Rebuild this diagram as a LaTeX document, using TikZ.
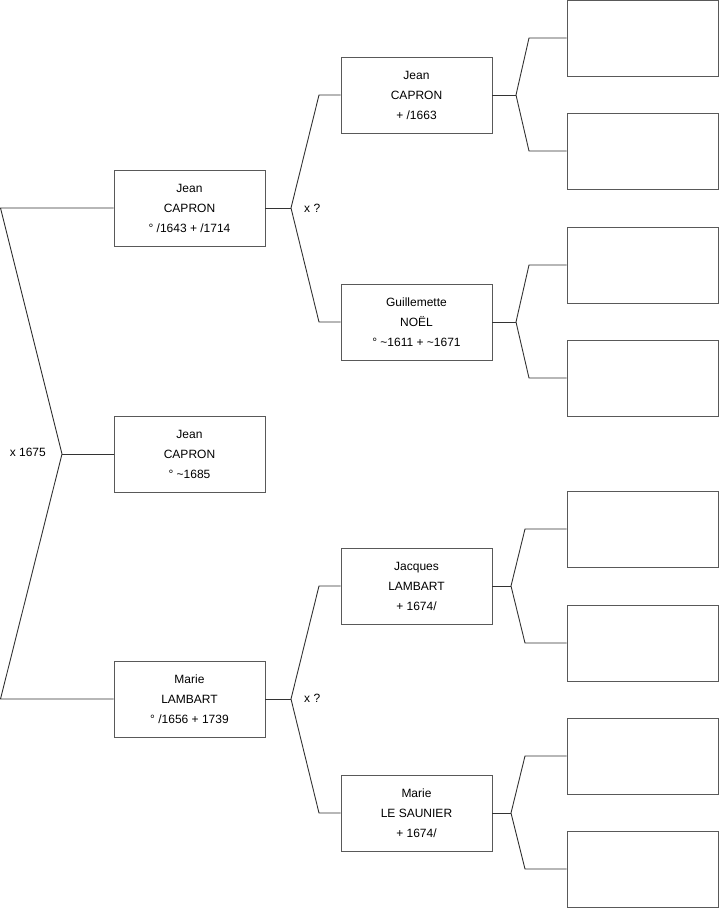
\documentclass[tikz,border=0pt]{standalone}
\usepackage{fontspec}
\setmainfont{Liberation Sans}
\begin{document}
\begin{tikzpicture}[x=1pt,y=-1pt,
  person/.style={draw=black!65, line width=0.9pt, fill=white, minimum width=151pt, minimum height=76pt,
    inner sep=0pt, align=center, font=\fontsize{12}{20}\selectfont},
  link/.style={draw=black!80, line width=0.9pt},
  lbl/.style={font=\fontsize{12}{14}\selectfont, inner sep=0pt}]
\useasboundingbox (0,0) rectangle (719,908);
% boxes
\node[person] (L1) at (189.5,208) {Jean\\CAPRON\\° /1643 + /1714};
\node[person] (L2) at (189.5,454) {Jean\\CAPRON\\° \textasciitilde1685};
\node[person] (L3) at (189.5,699) {Marie\\LAMBART\\° /1656 + 1739};
\node[person] (M1) at (416.5,95) {Jean\\CAPRON\\+ /1663};
\node[person] (M2) at (416.5,322) {Guillemette\\NOËL\\° \textasciitilde1611 + \textasciitilde1671};
\node[person] (M3) at (416.5,586) {Jacques\\LAMBART\\+ 1674/};
\node[person] (M4) at (416.5,813) {Marie\\LE SAUNIER\\+ 1674/};
\node[person] (R1) at (642.5,38) {};
\node[person] (R2) at (642.5,151) {};
\node[person] (R3) at (642.5,265) {};
\node[person] (R4) at (642.5,378) {};
\node[person] (R5) at (642.5,529) {};
\node[person] (R6) at (642.5,643) {};
\node[person] (R7) at (642.5,756) {};
\node[person] (R8) at (642.5,869) {};
% left bracket
\coordinate (lt) at (0.5,208);
\coordinate (lj) at (62,454);
\coordinate (lb) at (0.5,699);
\draw[link] (L1.west) -- (lt) -- (lj) -- (lb) -- (L3.west);
\draw[link] (lj) -- (L2.west);
\node[lbl, anchor=east] (x1) at (46,452) {x 1675};
% middle brackets
\coordinate (mj1) at (291,208);
\coordinate (mt1) at (319,95);
\coordinate (mb1) at (319,322);
\draw[link] (L1.east) -- (mj1);
\draw[link] (M1.west) -- (mt1) -- (mj1) -- (mb1) -- (M2.west);
\node[lbl, anchor=west] (x2) at (304,208) {x ?};
\coordinate (mj2) at (291,699);
\coordinate (mt2) at (319,586);
\coordinate (mb2) at (319,813);
\draw[link] (L3.east) -- (mj2);
\draw[link] (M3.west) -- (mt2) -- (mj2) -- (mb2) -- (M4.west);
\node[lbl, anchor=west] (x3) at (304,698) {x ?};
% right brackets
\coordinate (rj1) at (516,95);
\coordinate (rt1) at (529,38);
\coordinate (rb1) at (529,151);
\draw[link] (M1.east) -- (rj1);
\draw[link] (R1.west) -- (rt1) -- (rj1) -- (rb1) -- (R2.west);
\coordinate (rj2) at (516,322);
\coordinate (rt2) at (529,265);
\coordinate (rb2) at (529,378);
\draw[link] (M2.east) -- (rj2);
\draw[link] (R3.west) -- (rt2) -- (rj2) -- (rb2) -- (R4.west);
\coordinate (rj3) at (511,586);
\coordinate (rt3) at (525,529);
\coordinate (rb3) at (525,643);
\draw[link] (M3.east) -- (rj3);
\draw[link] (R5.west) -- (rt3) -- (rj3) -- (rb3) -- (R6.west);
\coordinate (rj4) at (511,813);
\coordinate (rt4) at (525,756);
\coordinate (rb4) at (525,869);
\draw[link] (M4.east) -- (rj4);
\draw[link] (R7.west) -- (rt4) -- (rj4) -- (rb4) -- (R8.west);
\end{tikzpicture}
\end{document}
